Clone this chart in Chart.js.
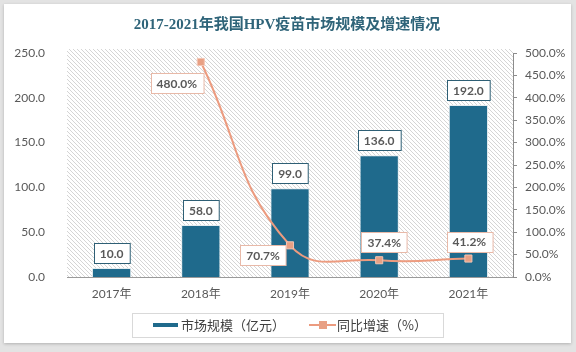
<!DOCTYPE html>
<html><head><meta charset="utf-8">
<script src="https://cdn.jsdelivr.net/npm/chart.js@4"></script>
<style>
html,body{margin:0;padding:0;background:#e3e3e3;width:576px;height:352px;overflow:hidden}
#card{position:absolute;left:4px;top:4px;width:567px;height:339px;background:#fff;box-shadow:0 1px 3px rgba(0,0,0,0.22)}
#wrap{position:absolute;left:0;top:0;width:576px;height:352px}
</style></head><body>
<div id="card"></div>
<div id="wrap"><canvas id="c" width="576" height="352"></canvas></div>
<script>
const titleText = '2017-2021年我国HPV疫苗市场规模及增速情况';
const categories = ['2017年', '2018年', '2019年', '2020年', '2021年'];
const marketSize = [10.0, 58.0, 99.0, 136.0, 192.0];
const growthRate = [null, 480.0, 70.7, 37.4, 41.2];
const leftTicks = [0, 50, 100, 150, 200, 250];
const rightTicks = [0, 50, 100, 150, 200, 250, 300, 350, 400, 450, 500];
const seriesNames = ['市场规模（亿元）', '同比增速（%）'];

const BAR = '#1F6A8C';
const LINE = '#EC9B7F';
const TXT = '#595959';
const AXISFONT = {family: 'Lato, "Noto Sans CJK SC", sans-serif', size: 12};

// label offsets for the growth-rate labels (style only)
const lineLabelOffsets = [null, [-24, 21], [-27, 10], [5, -18], [1, -17]];

function makeHatch() {
  const s = 4, cv = document.createElement('canvas');
  cv.width = s; cv.height = s;
  const g = cv.getContext('2d');
  g.fillStyle = '#fff'; g.fillRect(0, 0, s, s);
  g.strokeStyle = '#d5d5d5'; g.lineWidth = 1;
  g.beginPath();
  g.moveTo(0, 0); g.lineTo(s, s);
  g.moveTo(-1, s - 1); g.lineTo(1, s + 1);
  g.moveTo(s - 1, -1); g.lineTo(s + 1, 1);
  g.stroke();
  return cv;
}

const bgPlugin = {
  id: 'bg',
  beforeDraw(chart) {
    const {ctx, chartArea: a} = chart;
    ctx.save();
    ctx.fillStyle = ctx.createPattern(makeHatch(), 'repeat');
    ctx.fillRect(a.left, a.top - 4, a.right - a.left, a.bottom - a.top + 4);
    ctx.restore();
  }
};

function labelBox(ctx, text, cx, cy, border) {
  ctx.font = 'bold 12px Lato, sans-serif';
  const w = ctx.measureText(text).width + 12, h = 20;
  const x = Math.round(cx - w / 2) + 0.5, y = Math.round(cy - h / 2) + 0.5;
  ctx.fillStyle = '#fff';
  ctx.fillRect(x, y, w, h);
  ctx.strokeStyle = border; ctx.lineWidth = 1;
  ctx.strokeRect(x, y, w, h);
  ctx.fillStyle = TXT;
  ctx.textAlign = 'center'; ctx.textBaseline = 'middle';
  ctx.fillText(text, cx, cy + 1);
}

const labelPlugin = {
  id: 'labels',
  afterDatasetsDraw(chart) {
    const {ctx} = chart;
    ctx.save();
    chart.getDatasetMeta(0).data.forEach((el, i) => {
      labelBox(ctx, marketSize[i].toFixed(1), el.x, el.y - 15, '#2E5F75');
    });
    chart.getDatasetMeta(1).data.forEach((el, i) => {
      if (growthRate[i] == null) return;
      const o = lineLabelOffsets[i];
      labelBox(ctx, growthRate[i].toFixed(1) + '%', el.x + o[0], el.y + o[1], '#E8B9A8');
    });
    ctx.restore();
  },
  afterDraw(chart) {
    const {ctx} = chart;
    ctx.save();
    // title
    ctx.font = 'bold 15px "Liberation Serif", "Noto Sans CJK SC", serif';
    ctx.fillStyle = '#2F6479';
    ctx.textAlign = 'center'; ctx.textBaseline = 'middle';
    ctx.fillText(titleText, 287, 25);
    // legend
    ctx.strokeStyle = '#d9d9d9'; ctx.lineWidth = 1;
    ctx.strokeRect(132.5, 313.5, 311, 24);
    ctx.fillStyle = BAR;
    ctx.fillRect(153, 323, 25, 4);
    ctx.font = '13px "Noto Sans CJK SC", sans-serif';
    ctx.fillStyle = '#404040';
    ctx.textAlign = 'left'; ctx.textBaseline = 'middle';
    ctx.fillText(seriesNames[0], 181, 325);
    ctx.strokeStyle = LINE; ctx.lineWidth = 2;
    ctx.beginPath(); ctx.moveTo(309, 325); ctx.lineTo(336, 325); ctx.stroke();
    ctx.fillStyle = '#E8A084';
    ctx.fillRect(319, 321, 8, 8);
    ctx.fillStyle = '#404040';
    ctx.fillText(seriesNames[1], 337, 325);
    ctx.restore();
  }
};

new Chart(document.getElementById('c'), {
  data: {
    labels: categories,
    datasets: [
      {
        type: 'bar', label: seriesNames[0], data: marketSize, yAxisID: 'y',
        backgroundColor: BAR, borderColor: '#e4ecef', borderWidth: 1,
        barPercentage: 0.44, categoryPercentage: 1, order: 2
      },
      {
        type: 'line', label: seriesNames[1], data: growthRate, yAxisID: 'y1',
        borderColor: LINE, borderWidth: 2, tension: 0.45,
        pointStyle: 'rect', pointRadius: 5, pointBackgroundColor: '#E8A084',
        pointBorderColor: '#F3C6B5', pointBorderWidth: 1, order: 1
      }
    ]
  },
  options: {
    responsive: false, animation: false, devicePixelRatio: 1,
    layout: {padding: {top: 53, bottom: 45, left: 0, right: 0}},
    plugins: {legend: {display: false}, title: {display: false}, tooltip: {enabled: false}},
    scales: {
      x: {
        grid: {display: false, drawTicks: false},
        border: {display: true, color: '#9a9a9a'},
        ticks: {color: TXT, font: AXISFONT, padding: 10},
        afterFit(s) { s.height = 30; }
      },
      y: {
        position: 'left', min: 0, max: 250,
        grid: {display: false}, border: {display: false},
        ticks: {color: TXT, font: AXISFONT, padding: 14, callback: v => v.toFixed(1)},
        afterBuildTicks(s) { s.ticks = leftTicks.map(v => ({value: v})); },
        afterFit(s) { s.width = 67; }
      },
      y1: {
        position: 'right', min: 0, max: 500,
        grid: {drawOnChartArea: false, drawTicks: true, tickLength: 4, color: '#8c8c8c'},
        border: {display: true, color: '#8c8c8c'},
        ticks: {color: TXT, font: AXISFONT, padding: 8, callback: v => v.toFixed(1) + '%'},
        afterBuildTicks(s) { s.ticks = rightTicks.map(v => ({value: v})); },
        afterFit(s) { s.width = 63; }
      }
    }
  },
  plugins: [bgPlugin, labelPlugin]
});
</script>
</body></html>
